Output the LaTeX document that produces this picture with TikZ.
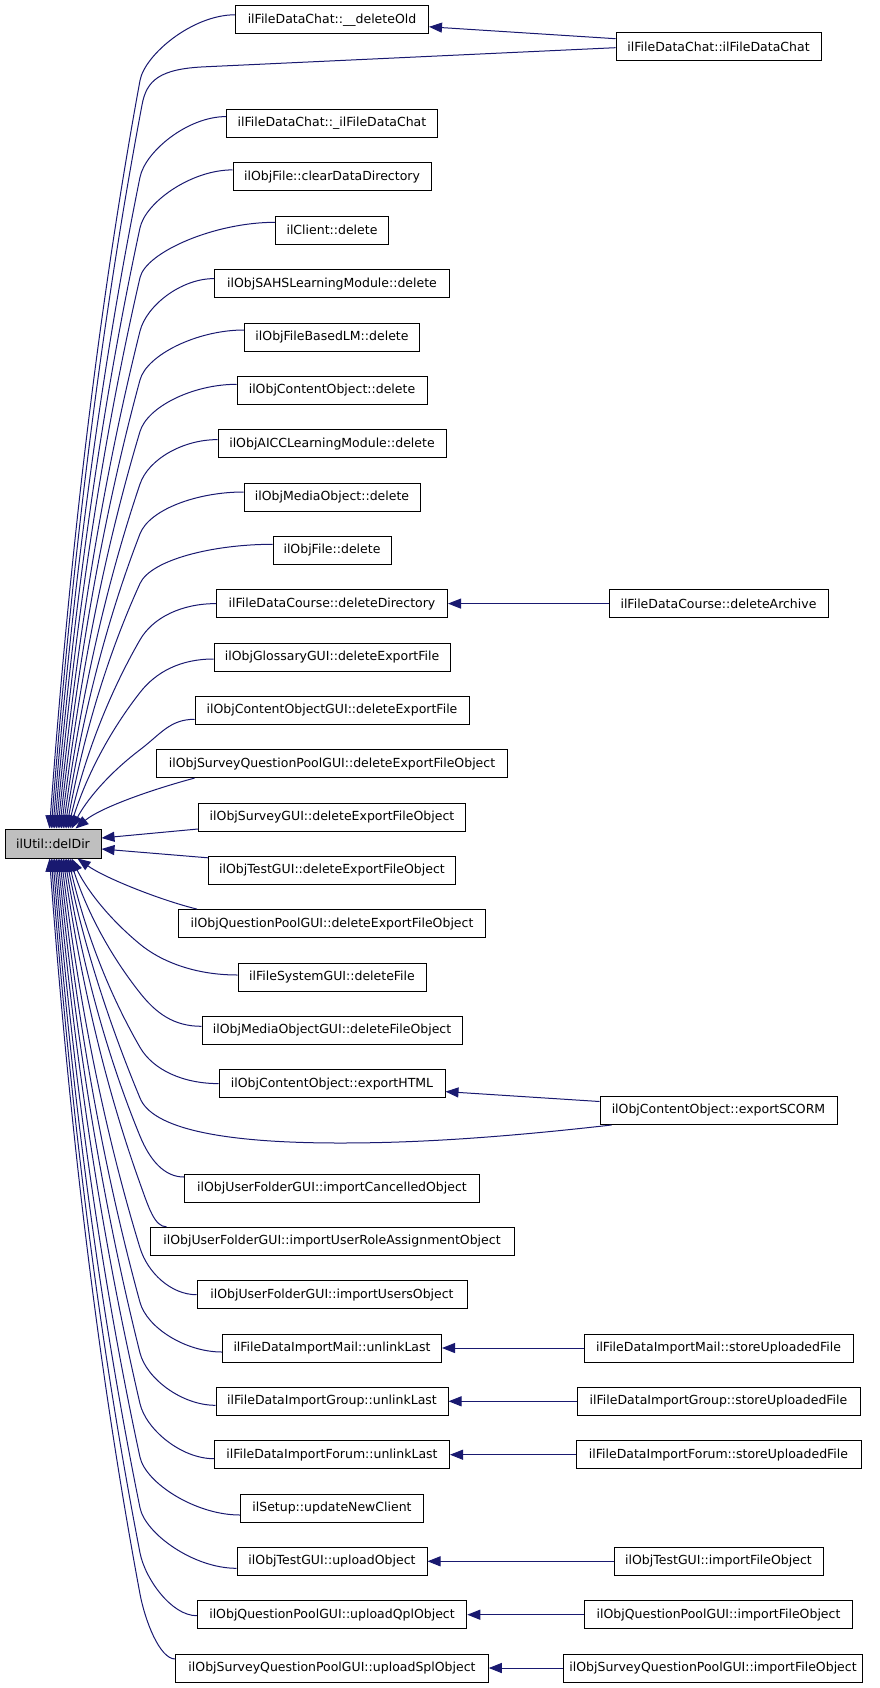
\documentclass[tikz,border=0pt]{standalone}
\usepackage{fontspec}
\setmainfont{DejaVu Sans}
\usetikzlibrary{arrows.meta,calc}
\definecolor{navyc}{RGB}{25,25,112}
\definecolor{ddgray}{RGB}{191,191,191}
\tikzset{
  edge/.style={draw=navyc, line width=1pt, -{Triangle[length=13pt,width=10pt]}},
  box/.style={draw=black, line width=1pt, fill=white, minimum height=28pt, inner sep=0pt,
    font=\fontsize{12.5}{15}\selectfont, text=black},
}
\newdimen\cedx \newdimen\cedy
\newcommand{\curvededge}[2]{%
  \path (#1) coordinate (ceW) (#2) coordinate (ceE);
  \pgfextractx{\cedx}{\pgfpointanchor{ceW}{center}}\pgfmathsetmacro\cewx{\cedx}%
  \pgfextracty{\cedy}{\pgfpointanchor{ceW}{center}}\pgfmathsetmacro\cewy{\cedy}%
  \pgfextractx{\cedx}{\pgfpointanchor{ceE}{center}}\pgfmathsetmacro\ceex{\cedx}%
  \pgfextracty{\cedy}{\pgfpointanchor{ceE}{center}}\pgfmathsetmacro\ceey{\cedy}%
  \pgfmathsetmacro\cesg{sign(\ceey-\cewy)}%
  \pgfmathsetmacro\cedly{abs(\ceey-\cewy)}%
  \pgfmathsetmacro\cebx{140}%
  \pgfmathsetmacro\ceby{\cewy+\cesg*(25+0.05*\cedly)}%
  \pgfmathsetmacro\cehx{\cebx-\ceex}%
  \pgfmathsetmacro\cevy{abs(\ceey-\ceby)}%
  \pgfmathsetmacro\cetax{\cebx-0.5*\cehx}%
  \pgfmathsetmacro\cetay{\ceby+\cesg*0.33*\cevy}%
  \pgfmathsetmacro\cetbx{\ceex+0.2*\cehx}%
  \pgfmathsetmacro\cetby{\ceey-\cesg*0.33*\cevy}%
  \pgfmathsetmacro\celen{veclen(\cetax-\cebx,\cetay-\ceby)}%
  \pgfmathsetmacro\cecbx{\cebx-26*(\cetax-\cebx)/\celen}%
  \pgfmathsetmacro\cecby{\ceby-26*(\cetay-\ceby)/\celen}%
  \pgfmathsetmacro\cecax{\cewx-0.45*(\cewx-\cebx)}%
  \draw[edge] (ceW) .. controls (\cecax pt,\cewy pt) and (\cecbx pt,\cecby pt) .. (\cebx pt,\ceby pt)
     .. controls (\cetax pt,\cetay pt) and (\cetbx pt,\cetby pt) .. (ceE);}
\begin{document}
\begin{tikzpicture}[x=1pt,y=-1pt]
\useasboundingbox (0,0) rectangle (880,1688);
% central node
\node[box, fill=ddgray, minimum width=96pt, minimum height=29pt] (dd) at (53,843.5) {ilUtil::delDir};
% middle column
\node[box, minimum width=193pt] (delOld) at (332,19.8) {ilFileDataChat::\_\_deleteOld};
\node[box, minimum width=211pt] (ilFDC) at (332,123.6) {ilFileDataChat::\_ilFileDataChat};
\node[box, minimum width=198pt] (clear) at (332,176.9) {ilObjFile::clearDataDirectory};
\node[box, minimum width=113pt] (client) at (332,230.3) {ilClient::delete};
\node[box, minimum width=235pt] (sahs) at (332,283.6) {ilObjSAHSLearningModule::delete};
\node[box, minimum width=175pt] (fblm) at (332,337) {ilObjFileBasedLM::delete};
\node[box, minimum width=190pt] (codel) at (332,390.3) {ilObjContentObject::delete};
\node[box, minimum width=228pt] (aicc) at (332,443.6) {ilObjAICCLearningModule::delete};
\node[box, minimum width=176pt] (mobdel) at (332,497) {ilObjMediaObject::delete};
\node[box, minimum width=118pt] (filedel) at (332,550.3) {ilObjFile::delete};
\node[box, minimum width=231pt] (deldir) at (332,603.6) {ilFileDataCourse::deleteDirectory};
\node[box, minimum width=236pt] (gloss) at (332,657) {ilObjGlossaryGUI::deleteExportFile};
\node[box, minimum width=274pt] (cogui) at (332,710.3) {ilObjContentObjectGUI::deleteExportFile};
\node[box, minimum width=351pt] (sqpdel) at (332,763.6) {ilObjSurveyQuestionPoolGUI::deleteExportFileObject};
\node[box, minimum width=267pt] (svdel) at (332,817) {ilObjSurveyGUI::deleteExportFileObject};
\node[box, minimum width=247pt] (tstdel) at (332,870.3) {ilObjTestGUI::deleteExportFileObject};
\node[box, minimum width=307pt] (qpdel) at (332,923.6) {ilObjQuestionPoolGUI::deleteExportFileObject};
\node[box, minimum width=188pt] (fsgui) at (332,977) {ilFileSystemGUI::deleteFile};
\node[box, minimum width=260pt] (mobgui) at (332,1030.3) {ilObjMediaObjectGUI::deleteFileObject};
\node[box, minimum width=226pt] (html) at (332,1083.6) {ilObjContentObject::exportHTML};
\node[box, minimum width=295pt] (cancel) at (332,1188) {ilObjUserFolderGUI::importCancelledObject};
\node[box, minimum width=364pt] (role) at (332,1241.3) {ilObjUserFolderGUI::importUserRoleAssignmentObject};
\node[box, minimum width=270pt] (users) at (332,1294.7) {ilObjUserFolderGUI::importUsersObject};
\node[box, minimum width=219pt] (mail) at (332,1348) {ilFileDataImportMail::unlinkLast};
\node[box, minimum width=232pt] (group) at (332,1401.3) {ilFileDataImportGroup::unlinkLast};
\node[box, minimum width=235pt] (forum) at (332,1454.7) {ilFileDataImportForum::unlinkLast};
\node[box, minimum width=183pt] (setup) at (332,1508) {ilSetup::updateNewClient};
\node[box, minimum width=190pt] (tstup) at (332,1561.3) {ilObjTestGUI::uploadObject};
\node[box, minimum width=269.5pt] (qplup) at (332,1614.7) {ilObjQuestionPoolGUI::uploadQplObject};
\node[box, minimum width=312.5pt] (splup) at (332,1668) {ilObjSurveyQuestionPoolGUI::uploadSplObject};
% right column
\node[box, minimum width=205pt] (chat) at (718.5,46.7) {ilFileDataChat::ilFileDataChat};
\node[box, minimum width=219pt] (archive) at (718.5,603.6) {ilFileDataCourse::deleteArchive};
\node[box, minimum width=237pt] (scorm) at (718.5,1110.5) {ilObjContentObject::exportSCORM};
\node[box, minimum width=269pt] (mailst) at (718.5,1348) {ilFileDataImportMail::storeUploadedFile};
\node[box, minimum width=283pt] (groupst) at (718.5,1401.3) {ilFileDataImportGroup::storeUploadedFile};
\node[box, minimum width=285pt] (forumst) at (718.5,1454.7) {ilFileDataImportForum::storeUploadedFile};
\node[box, minimum width=209pt] (tstimp) at (718.5,1561.3) {ilObjTestGUI::importFileObject};
\node[box, minimum width=268.5pt] (qplimp) at (718.5,1614.7) {ilObjQuestionPoolGUI::importFileObject};
\node[box, minimum width=299.5pt] (splimp) at (713,1668) {ilObjSurveyQuestionPoolGUI::importFileObject};
% upper cluster edges
\curvededge{[yshift=5pt]delOld.west}{[xshift=45pt]dd.north west}
\draw[edge] ([yshift=-1pt]chat.west) -- (205,66.8) .. controls (160,68.8) and (146.5,80) .. (142,105)
  .. controls (97,344) and (69.7,590) .. ([xshift=46.7pt]dd.north west);
\curvededge{[yshift=7pt]ilFDC.west}{[xshift=48.4pt]dd.north west}
\curvededge{[yshift=7pt]clear.west}{[xshift=50.1pt]dd.north west}
\curvededge{[yshift=8pt]client.west}{[xshift=51.8pt]dd.north west}
\curvededge{[yshift=5pt]sahs.west}{[xshift=53.5pt]dd.north west}
\curvededge{[yshift=7pt]fblm.west}{[xshift=55.2pt]dd.north west}
\curvededge{[yshift=6pt]codel.west}{[xshift=56.9pt]dd.north west}
\curvededge{[yshift=4pt]aicc.west}{[xshift=58.6pt]dd.north west}
\curvededge{[yshift=5pt]mobdel.west}{[xshift=60.3pt]dd.north west}
\curvededge{[yshift=6pt]filedel.west}{[xshift=62pt]dd.north west}
\curvededge{deldir.west}{[xshift=63.7pt]dd.north west}
\curvededge{[yshift=-2pt]gloss.west}{[xshift=65.4pt]dd.north west}
\curvededge{[yshift=-9pt]cogui.west}{[xshift=67.1pt]dd.north west}
% near edges
\draw[edge] ([xshift=38.5pt]sqpdel.south west) .. controls (150,790) and (100,808) .. ([xshift=71pt]dd.north west);
\draw[edge] ([yshift=-12pt]svdel.west) -- ([yshift=5.5pt]dd.east);
\draw[edge] ([yshift=12.5pt]tstdel.west) -- ([yshift=-5.5pt]dd.east);
\draw[edge] ([xshift=19pt]qpdel.north west) .. controls (160,900) and (105,878) .. ([xshift=73pt]dd.south west);
% lower cluster edges
\curvededge{[yshift=2pt]fsgui.west}{[xshift=67.1pt]dd.south west}
\curvededge{[yshift=4pt]mobgui.west}{[xshift=65.4pt]dd.south west}
\curvededge{html.west}{[xshift=63.7pt]dd.south west}
\draw[edge] ([xshift=12pt]scorm.south west) .. controls (480,1140) and (400,1143) .. (340,1143)
  .. controls (220,1143) and (152,1128) .. (140,1098)
  .. controls (107.1,1019) and (81.6,937) .. ([xshift=62pt]dd.south west);
\curvededge{[yshift=11pt]cancel.west}{[xshift=60.3pt]dd.south west}
\curvededge{[xshift=17pt]role.north west}{[xshift=58.6pt]dd.south west}
\curvededge{users.west}{[xshift=56.9pt]dd.south west}
\curvededge{[yshift=-4pt]mail.west}{[xshift=55.2pt]dd.south west}
\curvededge{[yshift=-4pt]group.west}{[xshift=53.5pt]dd.south west}
\curvededge{[yshift=-4pt]forum.west}{[xshift=51.8pt]dd.south west}
\curvededge{[yshift=-7pt]setup.west}{[xshift=50.1pt]dd.south west}
\curvededge{[yshift=-7pt]tstup.west}{[xshift=48.4pt]dd.south west}
\curvededge{[yshift=-1pt]qplup.west}{[xshift=46.7pt]dd.south west}
\curvededge{[yshift=9pt]splup.west}{[xshift=45pt]dd.south west}
% right-to-middle edges
\draw[edge] ([yshift=8pt]chat.west) -- ([yshift=-7pt]delOld.east);
\draw[edge] (archive.west) -- (deldir.east);
\draw[edge] ([yshift=9pt]scorm.west) -- ([yshift=-8pt]html.east);
\draw[edge] (mailst.west) -- (mail.east);
\draw[edge] (groupst.west) -- (group.east);
\draw[edge] (forumst.west) -- (forum.east);
\draw[edge] (tstimp.west) -- (tstup.east);
\draw[edge] (qplimp.west) -- (qplup.east);
\draw[edge] (splimp.west) -- (splup.east);
\end{tikzpicture}
\end{document}
